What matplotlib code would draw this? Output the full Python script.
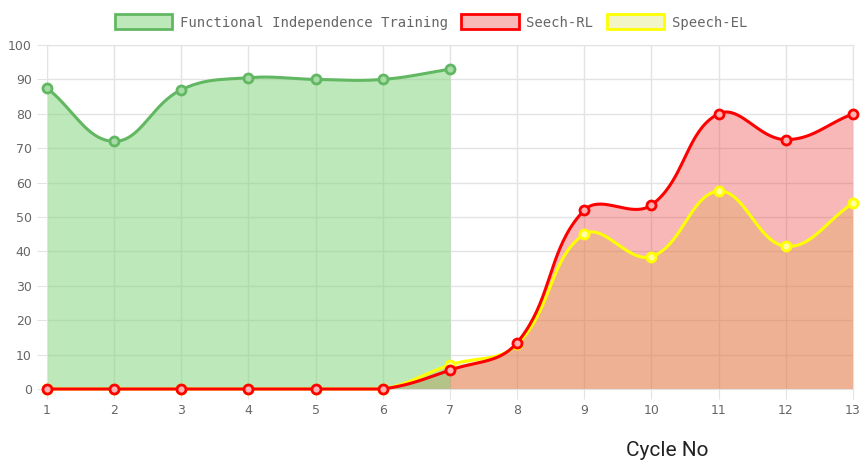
import matplotlib.pyplot as plt
import numpy as np
from matplotlib.patches import Patch

# Values
cycles = np.arange(1, 14)
fit_cycles = np.arange(1, 8)
fit_scores = [87.5, 72, 87, 90.5, 90, 90, 93]
speech_rl = [0, 0, 0, 0, 0, 0, 5.5, 13.5, 52, 53.5, 80, 72.5, 80]
speech_el = [0, 0, 0, 0, 0, 0, 7, 13, 45, 38.5, 57.5, 41.5, 54]
labels = ["Functional Independence Training", "Seech-RL", "Speech-EL"]

W, H = 862, 470
left, right, top, bottom = 47, 853, 45, 389
sx = (right - left) / 12.0
sy = (bottom - top) / 100.0


def smooth(xs, ys, tension=0.4, n=40):
    # Chart.js style cubic bezier spline, control points computed in pixel space
    px = np.asarray(xs, float) * sx
    py = np.asarray(ys, float) * sy
    k = len(px)
    cp_in, cp_out = [], []
    for i in range(k):
        p0 = (px[max(i - 1, 0)], py[max(i - 1, 0)])
        p1 = (px[i], py[i])
        p2 = (px[min(i + 1, k - 1)], py[min(i + 1, k - 1)])
        d01 = np.hypot(p1[0] - p0[0], p1[1] - p0[1])
        d12 = np.hypot(p2[0] - p1[0], p2[1] - p1[1])
        tot = d01 + d12
        s01 = d01 / tot if tot else 0
        s12 = d12 / tot if tot else 0
        fa, fb = tension * s01, tension * s12
        cp_in.append((p1[0] - fa * (p2[0] - p0[0]), p1[1] - fa * (p2[1] - p0[1])))
        cp_out.append((p1[0] + fb * (p2[0] - p0[0]), p1[1] + fb * (p2[1] - p0[1])))
    t = np.linspace(0, 1, n)
    outx, outy = [], []
    for i in range(k - 1):
        P0 = np.array([px[i], py[i]])
        P1 = np.array(cp_out[i])
        P2 = np.array(cp_in[i + 1])
        P3 = np.array([px[i + 1], py[i + 1]])
        P1[1] = np.clip(P1[1], 0, 100 * sy)
        P2[1] = np.clip(P2[1], 0, 100 * sy)
        b = ((1 - t) ** 3)[:, None] * P0 + (3 * (1 - t) ** 2 * t)[:, None] * P1 \
            + (3 * (1 - t) * t ** 2)[:, None] * P2 + (t ** 3)[:, None] * P3
        outx.extend(b[:, 0])
        outy.extend(b[:, 1])
    return np.array(outx) / sx, np.array(outy) / sy


fig = plt.figure(figsize=(W / 100, H / 100), dpi=100)
ax = fig.add_axes([left / W, 1 - bottom / H, (right - left) / W, (bottom - top) / H])

grid_c = "#e3e3e3"
green_fill = (129 / 255, 212 / 255, 125 / 255, 0.53)
red_fill = (235 / 255, 52 / 255, 52 / 255, 0.35)
yellow_fill = (215 / 255, 225 / 255, 70 / 255, 0.3)
green_line = "#62b862"
red_line = "#ff0000"
yellow_line = "#ffff00"

series = [
    (cycles, speech_el, yellow_fill, yellow_line, "#ffffa0"),
    (cycles, speech_rl, red_fill, red_line, "#ffb0b0"),
    (fit_cycles, fit_scores, green_fill, green_line, "#a8dca6"),
]

# fills first, in reverse dataset order
for xs, ys, fc, lc, mc in series:
    cx, cy = smooth(xs, ys)
    ax.fill_between(cx, cy, 0, color=fc, lw=0, zorder=1)

for i, (xs, ys, fc, lc, mc) in enumerate(series):
    cx, cy = smooth(xs, ys)
    ax.plot(cx, cy, color=lc, lw=2.2, zorder=3 + i, solid_capstyle="round", clip_on=False)
    ax.plot(xs, ys, "o", ms=6.5, mfc=mc, mec=lc, mew=2, zorder=3 + i, clip_on=False)

ax.set_xlim(1, 13)
ax.set_ylim(0, 100)
ax.set_xticks(cycles)
ax.set_yticks(np.arange(0, 101, 10))
ax.grid(True, color=grid_c, lw=1)
ax.set_axisbelow(True)
for s in ax.spines.values():
    s.set_color(grid_c)
ax.tick_params(length=7, color=grid_c, pad=4, labelsize=9, labelcolor="#666666")

handles = [Patch(facecolor=c[2], edgecolor=c[3], lw=2) for c in series[::-1]]
fig.legend(handles, labels, loc="center", bbox_to_anchor=(0.5, 1 - 22 / H), ncol=3,
           frameon=False, handlelength=4.15, handleheight=1.25, handletextpad=0.55,
           columnspacing=0.95, prop={"family": "DejaVu Sans Mono", "size": 10})
for txt in fig.legends[0].get_texts():
    txt.set_color("#666666")

fig.text(667 / W, 1 - 451 / H, "Cycle No", ha="center", va="center",
         fontsize=15, family="Roboto", color="#222222")

plt.savefig("out.png", dpi=100)
